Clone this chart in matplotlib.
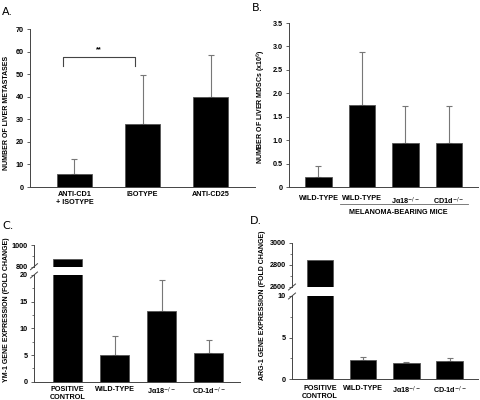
import matplotlib
matplotlib.use("Agg")
import matplotlib.pyplot as plt
from matplotlib.lines import Line2D
import numpy as np

# ---------------- data ----------------
a_categories = ["ANTI-CD1\n+ ISOTYPE", "ISOTYPE", "ANTI-CD25"]
a_values = [5.8, 27.8, 39.8]
a_err_top = [12.5, 49.5, 58.5]
a_ticks = [0, 10, 20, 30, 40, 50, 60, 70]

b_categories = ["WILD-TYPE", "WILD-TYPE", "J\u03b118$^{-/-}$", "CD1d$^{-/-}$"]
b_values = [0.22, 1.76, 0.93, 0.945]
b_err_top = [0.45, 2.89, 1.735, 1.735]
b_ticks = [0, 0.5, 1.0, 1.5, 2.0, 2.5, 3.0, 3.5]
b_ticklabels = ["0", "0.5", "1.0", "1.5", "2.0", "2.5", "3.0", "3.5"]

c_categories = ["POSITIVE\nCONTROL", "WILD-TYPE", "J\u03b118$^{-/-}$", "CD-1d$^{-/-}$"]
c_values = [870, 5.0, 13.3, 5.45]
c_err_top = [None, 8.6, 19.0, 7.8]
c_low_ticks = [0, 5, 10, 15, 20]
c_high_ticks = [800, 1000]

d_categories = ["POSITIVE\nCONTROL", "WILD-TYPE", "J\u03b118$^{-/-}$", "CD-1d$^{-/-}$"]
d_values = [2845, 2.3, 1.9, 2.2]
d_err_top = [None, 2.65, 2.05, 2.6]
d_low_ticks = [0, 5, 10]
d_high_ticks = [2600, 2800, 3000]

# ---------------- style ----------------
plt.rcParams['font.family'] = ['Liberation Sans', 'DejaVu Sans']
W, H = 480, 400
fig = plt.figure(figsize=(W / 100, H / 100), dpi=100)
FS = 5.2
YFS = 5.0
SPINE = '#444444'
ERRC = '#777777'


def add_ax(l, t, r, b):
    return fig.add_axes([l / W, 1 - b / H, (r - l) / W, (b - t) / H])


def style(ax, bottom=True):
    for s in ['top', 'right']:
        ax.spines[s].set_visible(False)
    ax.spines['left'].set_color(SPINE)
    ax.spines['left'].set_linewidth(0.7)
    ax.spines['bottom'].set_color(SPINE)
    ax.spines['bottom'].set_linewidth(0.7)
    if not bottom:
        ax.spines['bottom'].set_visible(False)
    ax.tick_params(axis='y', direction='out', length=2.5, width=0.6, color=SPINE,
                   labelsize=FS, pad=2)
    ax.tick_params(axis='y', which='minor', direction='out', length=1.5, width=0.5, color=SPINE)
    ax.tick_params(axis='x', length=0, labelsize=FS)
    for lab in ax.get_yticklabels():
        lab.set_fontweight('bold')
    ax.patch.set_alpha(0)


def bars(ax, x, vals, width, errs=None):
    ax.bar(x, vals, width=width, color='black', edgecolor='#555555', linewidth=0.6, zorder=3)
    if errs is not None:
        for xi, v, e in zip(x, vals, errs):
            if e is None:
                continue
            ax.errorbar([xi], [v], yerr=[[0], [e - v]], fmt='none', ecolor=ERRC,
                        elinewidth=0.8, capsize=2.2, capthick=0.8, zorder=2)


def xlabels(ax, x, labels, pad):
    ax.set_xticks(x)
    ax.set_xticklabels(labels, fontsize=FS, fontweight='bold', linespacing=1.2)
    ax.tick_params(axis='x', pad=pad)


def fig_line(x0, y0, x1, y1, color=SPINE, lw=0.7):
    fig.add_artist(Line2D([x0 / W, x1 / W], [1 - y0 / H, 1 - y1 / H],
                          color=color, lw=lw, transform=fig.transFigure))


def fig_text(x, y, s, **kw):
    fig.text(x / W, 1 - y / H, s, **kw)


# ---------------- Panel A ----------------
axA = add_ax(30, 29, 255, 187)
xa = np.arange(len(a_values))
bars(axA, xa, a_values, 0.515, a_err_top)
axA.set_xlim(-0.654, 2.654)
axA.set_ylim(0, 70)
axA.set_yticks(a_ticks)
style(axA)
xlabels(axA, xa, a_categories, 3)
# significance bracket
bx0, bx1 = xa[0] - 0.17, xa[1] - 0.11
axA.plot([bx0, bx0, bx1, bx1], [53.8, 57.4, 57.4, 53.8], color=SPINE, lw=0.8, clip_on=False)
axA.text((bx0 + bx1) / 2, 59.3, "**", ha='center', va='bottom', fontsize=FS, fontweight='bold')
fig_text(7, 113, "NUMBER OF LIVER METASTASES", rotation=90, ha='center', va='center',
         fontsize=YFS, fontweight='bold')
fig_text(2, 12, "A.", fontsize=8, ha='left', va='center', family='DejaVu Sans')

# ---------------- Panel B ----------------
axB = add_ax(289, 23, 478, 187)
xb = np.arange(len(b_values))
bars(axB, xb, b_values, 0.62, b_err_top)
axB.set_xlim(-0.678, 3.667)
axB.set_ylim(0, 3.5)
axB.set_yticks(b_ticks)
axB.set_yticklabels(b_ticklabels)
style(axB)
xlabels(axB, xb, b_categories, 6)
fig_text(261, 107, "NUMBER OF LIVER MDSCs (x10$^6$)", rotation=90, ha='center', va='center',
         fontsize=YFS, fontweight='bold')
fig_line(340, 204, 468, 204, color='#666666', lw=0.6)
fig_text(398, 213, "MELANOMA-BEARING MICE", ha='center', va='center', fontsize=FS,
         fontweight='bold')
fig_text(252, 8, "B.", fontsize=8, ha='left', va='center', family='DejaVu Sans')

# ---------------- Panel C ----------------
xc = np.arange(len(c_values))
axCh = add_ax(34, 245, 240, 266.7)
axCl = add_ax(34, 275, 240, 381.7)
bars(axCh, xc, c_values, 0.606)
bars(axCl, xc, c_values, 0.606, c_err_top)
for ax in (axCh, axCl):
    ax.set_xlim(-0.713, 3.67)
axCh.set_ylim(800, 1000)
axCh.set_yticks(c_high_ticks)
axCh.set_yticks([900], minor=True)
axCl.set_ylim(0, 20)
axCl.set_yticks(c_low_ticks)
axCl.set_yticks([2.5, 7.5, 12.5, 17.5], minor=True)
style(axCh, bottom=False)
style(axCl)
axCh.set_xticks([])
xlabels(axCl, xc, c_categories, 3)
for yb in (266.7, 275):
    fig_line(30.5, yb + 3, 37.5, yb - 3, lw=0.7)
fig_text(7, 310, "YM-1 GENE EXPRESSION (FOLD CHANGE)", rotation=90, ha='center', va='center',
         fontsize=YFS, fontweight='bold')
fig_text(2, 226, "C.", fontsize=8, ha='left', va='center', family='DejaVu Sans')

# ---------------- Panel D ----------------
xd = np.arange(len(d_values))
axDh = add_ax(292, 243, 478, 287)
axDl = add_ax(292, 296, 478, 379.3)
bars(axDh, xd, d_values, 0.614)
bars(axDl, xd, d_values, 0.614, d_err_top)
for ax in (axDh, axDl):
    ax.set_xlim(-0.649, 3.66)
axDh.set_ylim(2600, 3000)
axDh.set_yticks(d_high_ticks)
axDh.set_yticks([2700, 2900], minor=True)
axDl.set_ylim(0, 10)
axDl.set_yticks(d_low_ticks)
axDl.set_yticks([2.5, 7.5], minor=True)
style(axDh, bottom=False)
style(axDl)
axDh.set_xticks([])
xlabels(axDl, xd, d_categories, 4)
for yb in (287, 296):
    fig_line(288.5, yb + 3, 295.5, yb - 3, lw=0.7)
fig_text(263, 305, "ARG-1 GENE EXPRESSION (FOLD CHANGE)", rotation=90, ha='center',
         va='center', fontsize=YFS, fontweight='bold')
fig_text(250, 221, "D.", fontsize=8, ha='left', va='center', family='DejaVu Sans')

fig.savefig("out.png", dpi=100)
